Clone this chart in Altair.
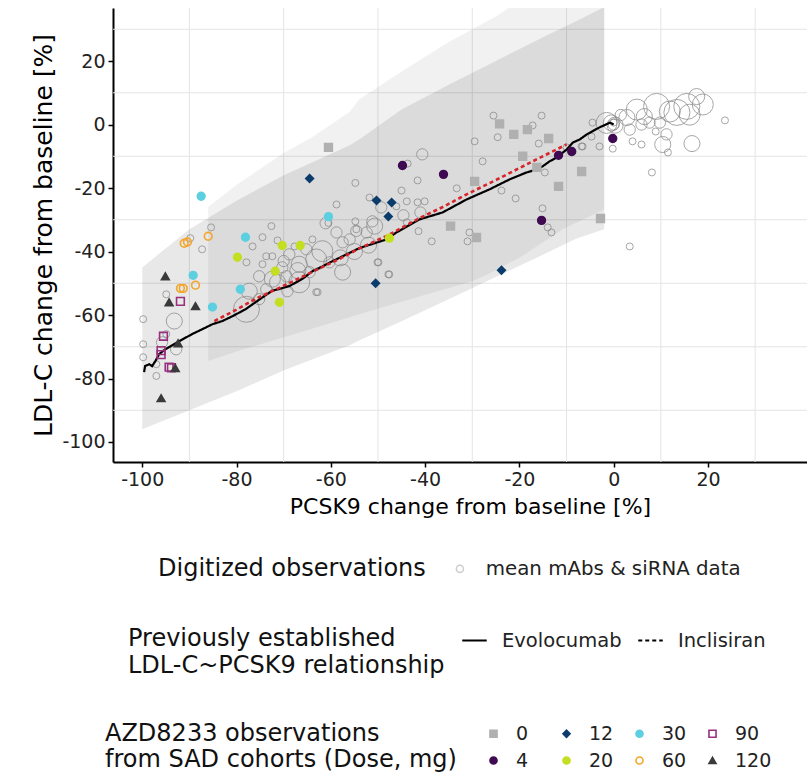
import altair as alt
import pandas as pd

FONT = "DejaVu Sans"

# ---------------- axes -----------------
x_ticks = [-100, -80, -60, -40, -20, 0, 20]
y_ticks = [20, 0, -20, -40, -60, -80, -100]
grid_x = [-90, -70, -50, -30, -10, 10, 30]
grid_y = [30, 10, -10, -30, -50, -70, -90]
x_domain = [-106.2, 41.0]
y_domain = [-106.3, 36.7]

# ---------------- prediction ribbons -----------------
ribA_x = [-100, -90, -80, -70, -64, -56, -54, -45, -35, -25, -15, -8, -2]
ribA_hi = [-45, -33, -24, -16, -12, -6.5, -4.7, 4.7, 12.5, 20, 27.5, 32.5, 37]
ribA_lo = [-96, -90, -84, -77.5, -74, -69.5, -68, -62, -55, -48, -41, -36, -33]

ribB_x = [-86, -80, -70, -64, -56, -54, -45, -35, -30, -25, -22, -20, -10.8, -2]
ribB_hi = [-26, -19, -9, -4, 4, 7.9, 16.7, 26, 30, 34, 37, 37, 37, 37]
ribB_lo = [-74.5, -71.5, -67, -64.3, -60.7, -59.8, -55.8, -51.5, -49.4, -46, -43.5, -42, -33, -26.7]

# ---------------- established relationships -----------------
evo_x = [-99.6, -99.4, -98.5, -97.9, -97.2, -96.4, -95.1, -92.1, -89.4, -87.3, -85.1, -83.0,
         -80.9, -78.1, -76.0, -72.5, -68.8, -66.0, -63.9, -61.8, -59.7, -57.5, -53.9, -48.2,
         -46.1, -41.2, -36.3, -31.2, -26.3, -22.1, -18.5, -16.3, -15.1, -13.6, -12.1, -10.0,
         -8.7, -7.2, -5.7, -3.0, -0.8, 0.0]
evo_y = [-78.0, -76.1, -75.5, -76.1, -74.5, -72.3, -70.8, -68.2, -66.0, -64.5, -62.9, -61.9,
         -60.4, -58.2, -56.0, -52.4, -50.9, -48.6, -46.2, -44.7, -43.1, -41.5, -38.9, -36.2,
         -34.0, -29.9, -27.7, -23.6, -20.4, -17.3, -15.1, -14.2, -13.2, -11.6, -10.4, -7.9,
         -5.7, -4.7, -3.1, -0.9, 0.6, 0.0]
inc_x = [-84.7, -80, -75.8, -70, -63.9, -58, -53.9, -48, -41.2, -36, -31.2, -25, -17.2, -10]
inc_y = [-61.9, -58.3, -54.8, -50.8, -46.4, -42.2, -39.0, -35.0, -29.5, -25.8, -22.0, -17.5, -11.6, -6.3]

# ---------------- digitized literature observations -----------------
dig_x = [0, 0, -0.5, 0.3, -1.5, 4.9, 9.1, 11.9, 13.4, 15.5, 17.6, 18.9, 16.1, 2.8, 3.4, 5.9, 7.6,
         9.8, 11.2, 10.4, 11.5, 16.6, 23.6, 8.1, 5.9, 4.0, -0.2, -3.0, -4.7, -4.5, -6.6, 8.9,
         3.4, 6.5, 1.5,
         -25.5, -15.3, -17.2, -29.5, -24.6, -15.9, -40.6, -43.7, -27.8, -14.6, -10.0, -6.8,
         -54.8, -45.0, -41.6, -33.3, -23.8, -20.8, -15.1, -14.0, -13.2, -43.9, -41.6, -40.1,
         -51.8, -49.3, -44.6, -41.0, -54.8, -50.7, -54.6, -41.4, -38.6, -30.6, -31.0, -46.1,
         -58.8, -49.9, -47.8, -43.9, -51.2,
         -72.6, -74.5, -76.6, -61.1, -58.8, -57.5, -56.0, -54.6, -52.4, -63.9, -65.2, -61.8,
         -63.1, -66.7, -68.8, -72.4, -73.7, -74.5, -70.3, -72.4, -75.2, -69.4, -66.7, -64.5,
         -57.5, -60.3, -62.8, -50.1, -47.6, -77.3, -77.9, -73.7, -75.2, -69.2, -71.3, -63.1,
         -71.3, -67.7, -85.4, -89.8, -87.3, -77.9, -60.5, -55.0, -58.0, -52.0, -67.0, -70.0,
         -94.9, -93.2, -94.9, -95.8, -92.8, -99.8, -99.8, -99.8, -97.0, -97.0]
dig_y = [0.6, 0.0, 0.5, -0.2, 0.5, 4.7, 5.7, 4.1, 3.8, 5.7, 8.8, 6.3, 3.1, 2.2, -1.6, 0.0, 0.6,
         0.6, -3.1, -6.3, -8.8, -6.0, 1.3, -15.1, -6.3, -5.3, -7.6, -6.9, -3.8, 0.6, -6.9, -2.2,
         -38.4, 2.5, 3.0,
         2.8, 2.8, -0.3, -5.3, -4.0, -6.0, -9.4, -12.3, -11.6, -15.1, -7.2, -6.9,
         -18.4, -20.8, -17.6, -20.1, -20.8, -23.3, -26.4, -32.4, -34.0, -24.2, -24.5, -24.2,
         -23.0, -26.1, -28.6, -27.7, -30.5, -32.0, -33.0, -33.6, -36.8, -34.0, -36.8, -25.8,
         -25.2, -43.4, -47.2, -30.8, -30.5,
         -32.0, -35.5, -38.4, -31.1, -34.0, -37.1, -36.2, -33.5, -34.0, -36.2, -39.3, -39.9,
         -42.5, -44.0, -40.9, -41.5, -41.5, -44.0, -45.0, -48.7, -47.8, -47.8, -49.7, -46.5,
         -46.5, -43.4, -52.8, -43.4, -47.2, -52.5, -58.2, -51.9, -55.0, -52.5, -49.7, -52.8,
         -36.5, -38.4, -32.4, -35.8, -39.3, -43.4, -31.0, -40.0, -42.0, -38.0, -46.0, -43.0,
         -53.5, -61.9, -66.0, -68.6, -70.8, -61.3, -69.2, -73.3, -75.5, -79.2]
dig_w = [1, 2, 3, 3, 4, 4, 5, 4, 5, 5, 3, 4, 4, 3, 2, 2, 2,
         2, 2, 3, 1, 3, 1, 1, 1, 1, 1, 1, 1, 1, 1, 1,
         1, 3, 2,
         1, 1, 1, 1, 1, 1, 2, 1, 1, 1, 1, 1,
         1, 1, 1, 1, 1, 1, 1, 1, 1, 1, 1, 1,
         1, 2, 2, 2, 1, 3, 1, 1, 1, 1, 1, 1,
         1, 1, 1, 1, 2,
         1, 1, 1, 2, 2, 2, 2, 2, 2, 1, 2, 4,
         4, 3, 2, 1, 1, 1, 2, 3, 2, 2, 4, 2,
         3, 2, 1, 1, 1, 3, 5, 2, 2, 2, 3, 1,
         1, 1, 1, 1, 1, 1, 1, 3, 3, 3, 3, 2,
         1, 3, 1, 2, 2, 1, 1, 1, 1, 1]

# ---------------- AZD8233 SAD observations -----------------
azd_dose = (["0"] * 13 + ["4"] * 6 + ["12"] * 6 + ["20"] * 6 + ["30"] * 6 + ["60"] * 6
            + ["90"] * 6 + ["120"] * 6)
azd_x = [-60.5, -24.2, -21.2, -18.3, -13.8, -19.3, -16.3, -29.5, -11.7, -6.8, -34.6, -29.1, -2.8,
         -44.8, -36.1, -11.7, -8.9, -15.3, -0.2,
         -64.5, -50.3, -47.1, -47.8, -50.5, -23.8,
         -79.8, -70.3, -66.5, -71.8, -70.9, -47.6,
         -87.5, -78.1, -89.2, -79.2, -85.1, -60.5,
         -91.1, -90.4, -86.0, -91.9, -91.3, -88.7,
         -91.9, -95.5, -96.0, -96.0, -94.3, -93.8,
         -95.1, -94.3, -88.7, -92.4, -93.0, -96.0]
azd_y = [-7.2, 0.2, -3.1, -1.6, -4.4, -10.0, -13.5, -17.9, -19.5, -14.8, -32.0, -35.6, -29.6,
         -12.9, -15.7, -9.7, -8.5, -30.2, -4.4,
         -17.0, -23.9, -24.6, -29.0, -50.0, -45.9,
         -41.8, -38.1, -38.1, -46.2, -56.0, -35.8,
         -22.6, -35.5, -47.5, -51.9, -57.5, -29.0,
         -37.4, -37.0, -35.2, -51.6, -51.6, -50.6,
         -55.7, -66.7, -71.2, -72.5, -76.4, -76.6,
         -47.8, -56.0, -57.2, -68.9, -76.7, -86.2]

dose_order = ["0", "12", "30", "90", "4", "20", "60", "120"]
dose_shape = ["square", "diamond", "circle", "square", "circle", "circle", "circle", "triangle-up"]
dose_stroke = ["#b0b0b0", "#0b3c6b", "#5ccfe0", "#98307f", "#3f0a52", "#c4de22", "#f3a52a", "#3a3a3a"]
dose_fill = ["#b0b0b0", "#0b3c6b", "#5ccfe0", "transparent", "#3f0a52", "#c4de22", "transparent", "#3a3a3a"]

# ---------------- tables -----------------
ribA = pd.DataFrame({"x": ribA_x, "lo": ribA_lo, "hi": ribA_hi})
ribB = pd.DataFrame({"x": ribB_x, "lo": ribB_lo, "hi": ribB_hi})
evo = pd.DataFrame({"x": evo_x, "y": evo_y, "drug": "Evolocumab"})
inc = pd.DataFrame({"x": inc_x, "y": inc_y, "drug": "Inclisiran"})
dig = pd.DataFrame({"x": dig_x, "y": dig_y, "w": dig_w, "src": "mean mAbs & siRNA data"})
azd = pd.DataFrame({"x": azd_x, "y": azd_y, "dose": azd_dose})
gx = pd.DataFrame({"gx": grid_x})
gy = pd.DataFrame({"gy": grid_y})

hyphen = "datum.value < 0 ? '-' + abs(datum.value) : '' + datum.value"
x_axis = alt.Axis(title="PCSK9 change from baseline [%]", values=x_ticks, grid=False, labelExpr=hyphen)
y_axis = alt.Axis(title="LDL-C change from baseline [%]", values=y_ticks, grid=False, labelExpr=hyphen)
x_scale = alt.Scale(domain=x_domain, nice=False, zero=False)
y_scale = alt.Scale(domain=y_domain, nice=False, zero=False)


def X(f):
    return alt.X(f, type="quantitative", scale=x_scale, axis=x_axis)


def Y(f):
    return alt.Y(f, type="quantitative", scale=y_scale, axis=y_axis)


grid_v = alt.Chart(gx).mark_rule(color="#e4e4e4", strokeWidth=1).encode(x=X("gx"))
grid_h = alt.Chart(gy).mark_rule(color="#e4e4e4", strokeWidth=1).encode(y=Y("gy"))

band_a = alt.Chart(ribA).mark_area(color="#000000", opacity=0.09, clip=True).encode(
    x=X("x"), y=Y("lo"), y2="hi")
band_b = alt.Chart(ribB).mark_area(color="#000000", opacity=0.055, clip=True).encode(
    x=X("x"), y=Y("lo"), y2="hi")

common_legend = dict(orient="none", direction="horizontal", titleOrient="left",
                     titleFontSize=24, titleFont=FONT, labelFont=FONT,
                     titleFontWeight="normal", titleColor="#111", labelColor="#222",
                     titleLimit=600, labelLimit=600)

dig_layer = alt.Chart(dig).mark_point(shape="circle", filled=False, strokeWidth=1,
                                      opacity=0.72, clip=True).encode(
    x=X("x"), y=Y("y"),
    size=alt.Size("w:Q", scale=alt.Scale(type="pow", exponent=2, domain=[1, 5], range=[49, 676]),
                  legend=None),
    color=alt.Color("src:N", scale=alt.Scale(domain=["mean mAbs & siRNA data"], range=["#858585"]),
                    legend=alt.Legend(title="Digitized observations", legendX=45, legendY=551,
                                      symbolSize=50, titlePadding=24, labelOffset=16,
                                      labelFontSize=19.8, symbolOpacity=0.4, **common_legend)),
)

dash_scale = alt.Scale(domain=["Evolocumab", "Inclisiran"], range=[[1, 0], [4, 3]])
dash_legend = alt.Legend(title=["Previously established", "LDL-C~PCSK9 relationship"],
                         legendX=15, legendY=619, titleLineHeight=27, titleAnchor="start",
                         symbolType="stroke", symbolSize=600, symbolStrokeWidth=2,
                         symbolStrokeColor="#000", titlePadding=16, labelOffset=14,
                         labelFontSize=19.5, columnPadding=12, **common_legend)

evo_layer = alt.Chart(evo).mark_line(color="#000000", strokeWidth=2.2).encode(
    x=X("x"), y=Y("y"), strokeDash=alt.StrokeDash("drug:N", scale=dash_scale, legend=dash_legend))
inc_layer = alt.Chart(inc).mark_line(color="#d7262b", strokeWidth=2.6).encode(
    x=X("x"), y=Y("y"), strokeDash=alt.StrokeDash("drug:N", scale=dash_scale, legend=dash_legend))

azd_legend = alt.Legend(title=["AZD8233 observations", "from SAD cohorts (Dose, mg)"],
                        legendX=-8, legendY=716, columns=4, titleLineHeight=26,
                        symbolSize=50, symbolStrokeWidth=1.6, titlePadding=27, labelOffset=13,
                        labelFontSize=19, gridAlign="all", columnPadding=4, rowPadding=7,
                        **common_legend)
azd_layer = alt.Chart(azd).mark_point(size=60, strokeWidth=1.6, opacity=1, fillOpacity=1).encode(
    x=X("x"), y=Y("y"),
    shape=alt.Shape("dose:N", scale=alt.Scale(domain=dose_order, range=dose_shape), legend=azd_legend),
    fill=alt.Fill("dose:N", scale=alt.Scale(domain=dose_order, range=dose_fill), legend=azd_legend),
    stroke=alt.Stroke("dose:N", scale=alt.Scale(domain=dose_order, range=dose_stroke), legend=azd_legend),
)

chart = alt.layer(grid_v, grid_h, band_a, band_b, dig_layer, evo_layer, inc_layer, azd_layer).properties(
    width=694, height=454,
    autosize=alt.AutoSizeParams(type="none"),
    padding={"left": 113, "top": 8, "right": 0, "bottom": 310},
).configure_view(stroke=None).configure_axis(
    domainColor="#000", domainWidth=2, tickColor="#000", tickSize=5, tickWidth=1.5,
    labelFont=FONT, labelFontSize=19, labelColor="#222",
    titleFont=FONT, titleFontWeight="normal", titleColor="#000",
).configure_axisX(titleFontSize=22, titlePadding=7, labelPadding=3, titleX=357).configure_axisY(
    titleFontSize=25, titlePadding=5, labelPadding=3)

chart.save("out.html", embed_options={"renderer": "svg", "actions": False})
